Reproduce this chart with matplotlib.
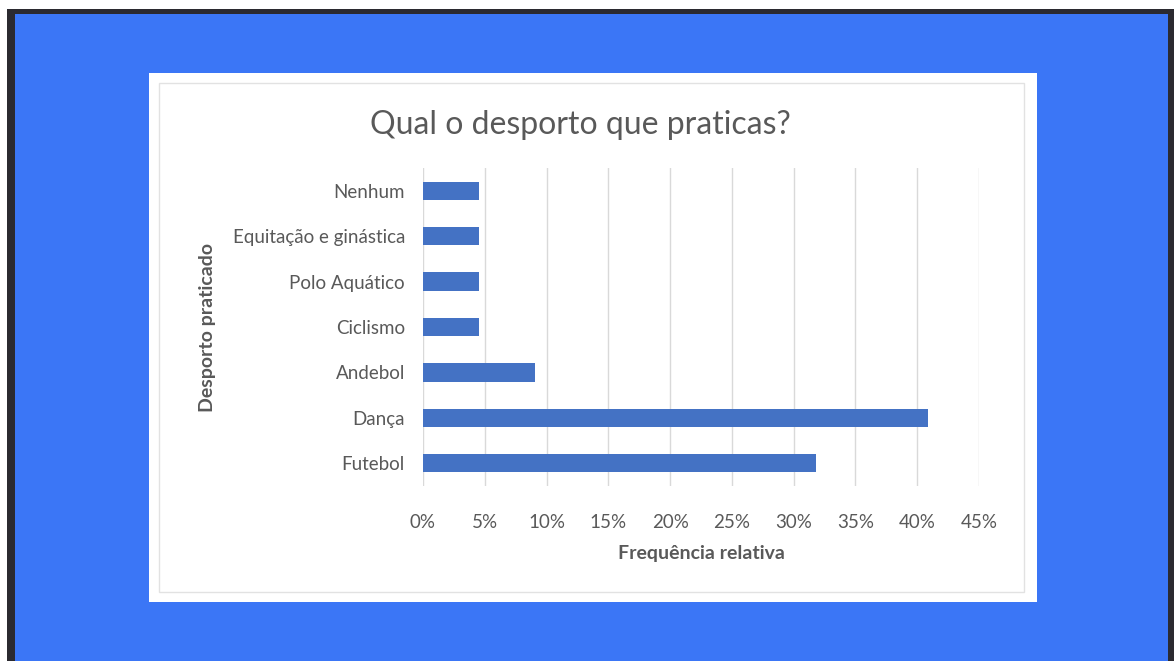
import matplotlib.pyplot as plt
from matplotlib.patches import Rectangle
from matplotlib.ticker import FuncFormatter

W, H = 1174, 661

desportos = ['Futebol', 'Dança', 'Andebol', 'Ciclismo', 'Polo Aquático',
             'Equitação e ginástica', 'Nenhum']
frequencia = [7/22, 9/22, 2/22, 1/22, 1/22, 1/22, 1/22]
xticks = [0, 0.05, 0.10, 0.15, 0.20, 0.25, 0.30, 0.35, 0.40, 0.45]

plt.rcParams['font.family'] = ['Lato', 'DejaVu Sans']

fig = plt.figure(figsize=(W / 100, H / 100), dpi=100, facecolor='white')

def px_rect(x0, y0, x1, y1, **kw):
    # rectangle given in pixel coords (top-left origin)
    r = Rectangle((x0 / W, 1 - y1 / H), (x1 - x0) / W, (y1 - y0) / H,
                  transform=fig.transFigure, **kw)
    fig.patches.append(r)

px_rect(7, 9, W, H, facecolor='#2b2a30', edgecolor='none', zorder=-3)
px_rect(15, 14, 1168, H, facecolor='#3b76f6', edgecolor='none', zorder=-3)
px_rect(149, 73, 1037, 602, facecolor='white', edgecolor='none', zorder=-2)
px_rect(159, 83, 1024, 592, facecolor='white', edgecolor='#e2e2e2', lw=1, zorder=-1)

ax = fig.add_axes([423 / W, 1 - 486 / H, (979 - 423) / W, (486 - 168) / H])
ax.set_zorder(2)
ax.set_facecolor('none')

ax.barh(range(len(desportos)), frequencia, height=0.4, color='#4472c4', zorder=3)

ax.set_xlim(0, 0.45)
ax.set_ylim(-0.5, len(desportos) - 0.5)
ax.set_xticks(xticks)
ax.xaxis.set_major_formatter(FuncFormatter(lambda v, p: f'{round(v * 100)}%'))
ax.set_yticks(range(len(desportos)))
ax.set_yticklabels(desportos)
ax.tick_params(length=0, labelsize=13.5, colors='#595959')
ax.tick_params(axis='x', pad=20)
ax.tick_params(axis='y', pad=13)
ax.grid(axis='x', color='#d9d9d9', lw=1, zorder=0)
for s in ax.spines.values():
    s.set_visible(False)

ax.set_xlabel('Frequência relativa', fontsize=14, fontweight='bold',
              color='#595959', labelpad=10)
ax.set_ylabel('Desporto praticado', fontsize=14, fontweight='bold',
              color='#595959', labelpad=12)

fig.text(580 / W, 1 - 125 / H, 'Qual o desporto que praticas?', fontsize=23,
         color='#595959', ha='center', va='center', zorder=3)

fig.savefig('out.png', dpi=100, facecolor=fig.get_facecolor())
